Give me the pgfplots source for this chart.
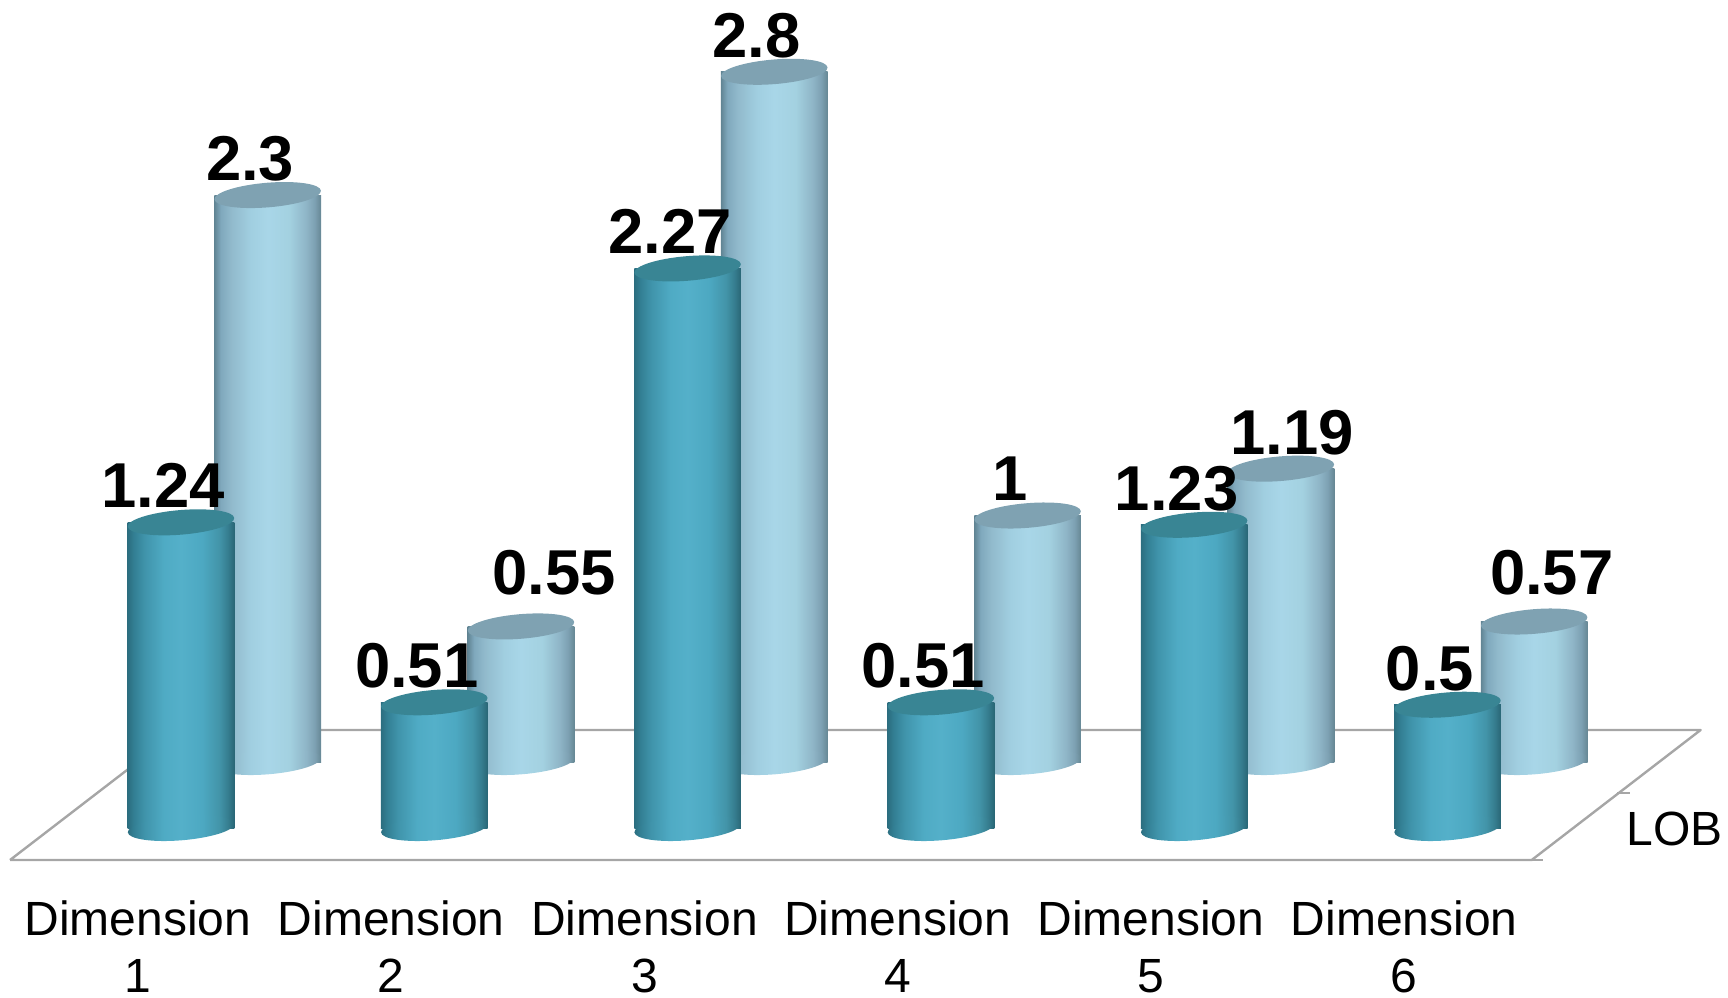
\documentclass[border=0pt]{standalone}
\usepackage{fontspec}
\setmainfont{Liberation Sans}
\usepackage{pgfplots}
\usepackage{pgfplotstable}
\pgfplotsset{compat=1.18}

\pgfdeclarehorizontalshading{frontshade}{100bp}{
  rgb(0bp)=(0.17,0.43,0.50);
  rgb(25bp)=(0.17,0.43,0.50);
  rgb(28bp)=(0.20,0.50,0.58);
  rgb(33bp)=(0.25,0.58,0.67);
  rgb(42bp)=(0.31,0.67,0.77);
  rgb(50bp)=(0.33,0.69,0.79);
  rgb(60bp)=(0.30,0.66,0.76);
  rgb(68bp)=(0.26,0.58,0.66);
  rgb(72bp)=(0.21,0.49,0.56);
  rgb(75bp)=(0.16,0.40,0.46);
  rgb(100bp)=(0.16,0.40,0.46)}
\pgfdeclarehorizontalshading{backshade}{100bp}{
  rgb(0bp)=(0.38,0.52,0.58);
  rgb(25bp)=(0.38,0.52,0.58);
  rgb(28bp)=(0.50,0.66,0.74);
  rgb(33bp)=(0.57,0.73,0.80);
  rgb(42bp)=(0.63,0.81,0.88);
  rgb(50bp)=(0.66,0.84,0.91);
  rgb(60bp)=(0.64,0.82,0.88);
  rgb(68bp)=(0.56,0.71,0.78);
  rgb(72bp)=(0.49,0.63,0.70);
  rgb(75bp)=(0.40,0.53,0.58);
  rgb(100bp)=(0.40,0.53,0.58)}
\definecolor{frontcapc}{RGB}{57,133,148}
\definecolor{backcapc}{RGB}{127,162,178}
\definecolor{floorc}{RGB}{166,166,166}

\newcommand{\capellipse}{\pgfpathellipse{\pgfpointorigin}{\pgfqpoint{26.7pt}{0pt}}{\pgfqpoint{0pt}{6.15pt}}}
\pgfdeclareplotmark{fronttop}{\pgfscope\pgftransformrotate{4.7}\capellipse\pgfsetfillcolor{frontcapc}\pgfusepathqfill\endpgfscope}
\pgfdeclareplotmark{backtop}{\pgfscope\pgftransformrotate{4.7}\capellipse\pgfsetfillcolor{backcapc}\pgfusepathqfill\endpgfscope}
\pgfdeclareplotmark{frontbot}{\pgfscope\pgftransformrotate{4.7}\capellipse\pgfshadepath{frontshade}{0}\pgfusepath{discard}\endpgfscope}
\pgfdeclareplotmark{backbot}{\pgfscope\pgftransformrotate{4.7}\capellipse\pgfshadepath{backshade}{0}\pgfusepath{discard}\endpgfscope}

\pgfplotstableread{
i v lab lshift lift
0 1.24 1.24 -8.8 7.3
1 0.51 0.51 -8.8 7.3
2 2.27 2.27 -8.8 7.3
3 0.51 0.51 -8.8 7.3
4 1.23 1.23 -8.8 7.3
5 0.5 0.5 -8.8 7.3
}\fronttable
\pgfplotstableread{
i v lab lshift lift
0 2.3 2.3 -8.8 7.3
1 0.55 0.55 16.5 16.1
2 2.8 2.8 -8.8 7.3
3 1 1 -8.8 7.3
4 1.19 1.19 5.5 7.3
5 0.57 0.57 8.8 13.3
}\backtable

\pgfplotsset{
  base/.style={
    at={(0,0)}, anchor=south west, scale only axis,
    width=864pt, height=498.5pt, clip=false,
  },
  labels/.style={
    only marks,
    point meta=explicit symbolic,
    visualization depends on={\thisrow{lshift} \as \lshiftval},
    visualization depends on={\thisrow{lift} \as \liftval},
    nodes near coords,
    nodes near coords align={anchor=base},
    every node near coord/.append style={
      font=\fontsize{31.7}{34}\selectfont\bfseries, text=black,
      inner sep=0pt, xshift=\lshiftval pt, yshift=\liftval pt},
  },
  cyl/.style={ybar, bar shift=0pt, bar width=53.35pt, draw=none, shade, shading=#1},
}

\begin{document}
\begin{tikzpicture}
\useasboundingbox (0,0) rectangle (864pt,498.5pt);
% back row and floor
\begin{axis}[base, hide axis,
  xmin=-1.0569, xmax=5.7652, ymin=-0.9533, ymax=3.0913]
  \addplot[floorc, line width=1.2pt, line join=round] coordinates
    {(-1.0174,-0.3976) (4.990,-0.3976) (5.657,0.1298) (-0.3499,0.1298) (-1.0174,-0.3976)};
  \addplot[floorc, line width=1pt] coordinates {(4.990,-0.3976) (5.035,-0.3976)};
  \addplot[floorc, line width=1pt] coordinates {(5.327,-0.1258) (5.378,-0.1258)};
  \addplot[only marks, mark=backbot] table[x=i, y expr=0] {\backtable};
  \addplot[cyl=backshade] coordinates {(0,2.3)};
  \addplot[cyl=backshade] coordinates {(1,0.55)};
  \addplot[cyl=backshade] coordinates {(2,2.8)};
  \addplot[cyl=backshade] coordinates {(3,1)};
  \addplot[cyl=backshade] coordinates {(4,1.19)};
  \addplot[cyl=backshade] coordinates {(5,0.57)};
  \addplot[labels, mark=backtop] table[x=i, y=v, meta=lab] {\backtable};
\end{axis}
% front row, category labels
\begin{axis}[base,
  xmin=-0.7146, xmax=6.1074, ymin=-0.6856, ymax=3.359,
  axis line style={draw=none}, tick style={draw=none},
  ytick=\empty, xtick={0,1,2,3,4,5},
  xticklabels={{Dimension\\1},{Dimension\\2},{Dimension\\3},{Dimension\\4},{Dimension\\5},{Dimension\\6}},
  x tick label style={font=\fontsize{24}{28.3}\selectfont, align=center, anchor=north,
    inner sep=0pt, xshift=-21.6pt, yshift=48.3pt},
]
  \addplot[only marks, mark=frontbot] table[x=i, y expr=0] {\fronttable};
  \addplot[cyl=frontshade] coordinates {(0,1.24)};
  \addplot[cyl=frontshade] coordinates {(1,0.51)};
  \addplot[cyl=frontshade] coordinates {(2,2.27)};
  \addplot[cyl=frontshade] coordinates {(3,0.51)};
  \addplot[cyl=frontshade] coordinates {(4,1.23)};
  \addplot[cyl=frontshade] coordinates {(5,0.5)};
  \addplot[labels, mark=fronttop] table[x=i, y=v, meta=lab] {\fronttable};
  \node[anchor=base, inner sep=0pt, font=\fontsize{24}{28.3}\selectfont] at (axis cs:5.898,-0.0718) {LOB};
\end{axis}
\end{tikzpicture}
\end{document}
